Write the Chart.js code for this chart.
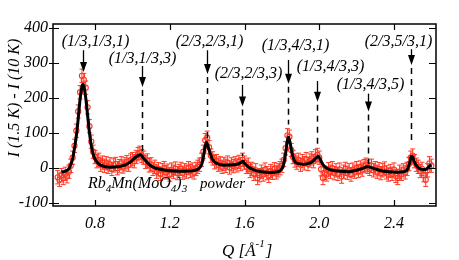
<!DOCTYPE html>
<html>
<head>
<meta charset="utf-8">
<script src="https://cdn.jsdelivr.net/npm/chart.js@4.4.0/dist/chart.umd.min.js"></script>
<style>
  body { margin: 0; background: #fff; }
</style>
</head>
<body>
<canvas id="chart-1" width="459" height="260"></canvas>
<script>
// measured points : Q (1/A) and I(1.5K)-I(10K)
const qData = [
  0.60,0.61,0.62,0.63,0.64,0.65,0.66,0.67,0.68,0.69,
  0.70,0.71,0.72,0.73,0.74,0.75,0.76,0.77,0.78,0.79,
  0.80,0.81,0.82,0.83,0.84,0.85,0.86,0.87,0.88,0.89,
  0.90,0.91,0.92,0.93,0.94,0.95,0.96,0.97,0.98,0.99,
  1.00,1.01,1.02,1.03,1.04,1.05,1.06,1.07,1.08,1.09,
  1.10,1.11,1.12,1.13,1.14,1.15,1.16,1.17,1.18,1.19,
  1.20,1.21,1.22,1.23,1.24,1.25,1.26,1.27,1.28,1.29,
  1.30,1.31,1.32,1.33,1.34,1.35,1.36,1.37,1.38,1.39,
  1.40,1.41,1.42,1.43,1.44,1.45,1.46,1.47,1.48,1.49,
  1.50,1.51,1.52,1.53,1.54,1.55,1.56,1.57,1.58,1.59,
  1.60,1.61,1.62,1.63,1.64,1.65,1.66,1.67,1.68,1.69,
  1.70,1.71,1.72,1.73,1.74,1.75,1.76,1.77,1.78,1.79,
  1.80,1.81,1.82,1.83,1.84,1.85,1.86,1.87,1.88,1.89,
  1.90,1.91,1.92,1.93,1.94,1.95,1.96,1.97,1.98,1.99,
  2.00,2.01,2.02,2.03,2.04,2.05,2.06,2.07,2.08,2.09,
  2.10,2.11,2.12,2.13,2.14,2.15,2.16,2.17,2.18,2.19,
  2.20,2.21,2.22,2.23,2.24,2.25,2.26,2.27,2.28,2.29,
  2.30,2.31,2.32,2.33,2.34,2.35,2.36,2.37,2.38,2.39,
  2.40,2.41,2.42,2.43,2.44,2.45,2.46,2.47,2.48,2.49,
  2.50,2.51,2.52,2.53,2.54,2.55,2.56,2.57,2.58,2.59,
  2.60
];
const iData = [
  -28,-35,-22,-30,-18,-25,-12,5,28,62,
  105,160,215,262,250,228,172,118,74,45,
  30,18,22,8,14,5,12,2,9,-4,
  6,10,-2,4,12,3,9,15,8,20,
  24,18,30,38,42,33,28,16,20,6,
  9,-4,2,-12,-5,-18,-8,-2,-14,-9,
  -20,-6,-12,-3,-16,-10,-4,-15,-8,-12,
  -2,-10,-6,-14,-4,2,8,22,45,78,
  85,58,34,26,15,18,8,12,2,10,
  5,14,0,9,4,12,6,16,10,22,
  14,2,8,-10,-4,-18,-8,-30,-22,-12,
  -20,-6,-16,-24,-10,-15,-5,-14,-8,-2,
  5,22,55,92,88,50,30,20,14,22,
  8,18,12,24,10,20,26,18,32,36,
  28,-5,-30,-15,-20,-5,-12,-2,-16,-8,
  -18,-6,-26,-12,-4,-15,-8,-20,-6,-12,
  -2,-10,0,-6,4,8,2,-4,5,-8,
  -2,-12,-5,-16,-8,-3,-14,-20,-10,-18,
  -6,-24,-30,-12,-18,-8,-14,-4,10,28,
  34,18,8,2,-10,-4,-22,-35,-8,12,
  5
];
const iErr = 19;

// fit curve (black line)
const fitQ = [0.62,0.64,0.66,0.67,0.68,0.69,0.70,0.71,0.72,0.73,0.735,0.74,0.75,0.76,0.77,0.78,0.79,0.80,
  0.82,0.85,0.88,0.92,0.96,0.99,1.01,1.03,1.045,1.06,1.08,1.10,1.13,1.17,1.22,1.28,1.33,1.355,1.37,
  1.38,1.39,1.397,1.405,1.415,1.43,1.45,1.48,1.52,1.56,1.58,1.593,1.60,1.62,1.65,1.69,1.74,1.78,1.80,
  1.81,1.82,1.83,1.836,1.845,1.855,1.865,1.88,1.91,1.94,1.965,1.985,1.995,2.005,2.02,2.04,2.07,2.11,
  2.16,2.20,2.23,2.255,2.27,2.30,2.34,2.39,2.44,2.465,2.475,2.485,2.493,2.50,2.51,2.525,2.54,2.56,
  2.575,2.59,2.60];
const fitI = [-12,-11,-4,8,25,55,90,140,195,232,238,233,200,150,100,62,38,24,
  10,3,1,2,7,16,26,34,36,26,14,4,-3,-7,-10,-11,-9,-3,8,
  30,62,72,60,42,22,12,7,7,9,14,18,12,2,-7,-12,-14,-12,-4,
  10,40,78,86,68,40,22,12,9,11,18,28,32,24,8,-2,-8,-11,
  -12,-8,-3,2,1,-4,-10,-13,-13,-10,-2,15,32,30,15,2,-4,-6,
  -4,4,7];

// peak markers
const peakQ = [0.736, 1.050, 1.397, 1.586, 1.835, 1.989, 2.261, 2.491];
const peakLabels = ['(1/3,1/3,1)', '(1/3,1/3,3)', '(2/3,2/3,1)', '(2/3,2/3,3)',
  '(1/3,4/3,1)', '(1/3,4/3,3)', '(1/3,4/3,5)', '(2/3,5/3,1)'];

const xTicks = [0.8, 1.2, 1.6, 2.0, 2.4];
const yTicks = [-100, 0, 100, 200, 300, 400];

// layout of the markers, in y units (label centre, arrow top, arrow tip, end of dashes) and label shift in px
const markerLayout = [
  { labelY: 358, top: 335, tip: 273, end: 273, dx: 12 },
  { labelY: 310, top: 290, tip: 230, end: 47, dx: 0 },
  { labelY: 358, top: 335, tip: 267, end: 81, dx: 2 },
  { labelY: 267, top: 236, tip: 174, end: 33, dx: 6 },
  { labelY: 349, top: 307, tip: 239, end: 123, dx: 7 },
  { labelY: 287, top: 247, tip: 188, end: 55, dx: 13 },
  { labelY: 236, top: 211, tip: 160, end: 10, dx: 2 },
  { labelY: 358, top: 338, tip: 293, end: 67, dx: -13 }
];

const serif = '"Liberation Serif", "Times New Roman", serif';
const red = 'rgb(255, 55, 35)';

const points = qData.map((q, i) => ({ x: q, y: iData[i] }));
const fit = fitQ.map((q, i) => ({ x: q, y: fitI[i] }));

const decorations = {
  id: 'decorations',
  beforeDatasetsDraw(chart) {
    const ctx = chart.ctx, x = chart.scales.x, y = chart.scales.y;
    ctx.save();
    ctx.strokeStyle = red;
    ctx.lineWidth = 1;
    points.forEach(p => {
      const px = x.getPixelForValue(p.x);
      const y1 = y.getPixelForValue(p.y - iErr), y2 = y.getPixelForValue(p.y + iErr);
      ctx.beginPath();
      ctx.moveTo(px, y1); ctx.lineTo(px, y2);
      ctx.moveTo(px - 2.5, y1); ctx.lineTo(px + 2.5, y1);
      ctx.moveTo(px - 2.5, y2); ctx.lineTo(px + 2.5, y2);
      ctx.stroke();
    });
    ctx.restore();
  },
  afterDatasetsDraw(chart) {
    const ctx = chart.ctx, x = chart.scales.x, y = chart.scales.y;
    ctx.save();
    ctx.fillStyle = '#000';
    ctx.strokeStyle = '#000';
    ctx.font = 'italic 16px ' + serif;
    ctx.textAlign = 'center';
    ctx.textBaseline = 'middle';
    peakQ.forEach((q, i) => {
      const m = markerLayout[i];
      const px = Math.round(x.getPixelForValue(q)) + 0.5;
      const top = y.getPixelForValue(m.top), tip = y.getPixelForValue(m.tip);
      ctx.fillText(peakLabels[i], px + m.dx, y.getPixelForValue(m.labelY));
      ctx.lineWidth = 1.3;
      ctx.setLineDash([]);
      ctx.beginPath();
      ctx.moveTo(px, top); ctx.lineTo(px, tip - 8);
      ctx.stroke();
      ctx.beginPath();
      ctx.moveTo(px - 3.5, tip - 10); ctx.lineTo(px + 3.5, tip - 10); ctx.lineTo(px, tip);
      ctx.closePath();
      ctx.fill();
      if (m.end < m.tip) {
        ctx.lineWidth = 1.5;
        ctx.setLineDash([6, 5]);
        ctx.beginPath();
        ctx.moveTo(px, tip + 3); ctx.lineTo(px, y.getPixelForValue(m.end));
        ctx.stroke();
      }
    });
    ctx.restore();
  },
  afterDraw(chart) {
    const ctx = chart.ctx, x = chart.scales.x, y = chart.scales.y, a = chart.chartArea;
    ctx.save();
    ctx.strokeStyle = '#000';
    ctx.lineWidth = 1.5;
    ctx.strokeRect(a.left, a.top, a.right - a.left, a.bottom - a.top);
    ctx.lineWidth = 1.2;
    ctx.beginPath();
    xTicks.forEach(v => {
      const px = Math.round(x.getPixelForValue(v)) + 0.5;
      ctx.moveTo(px, a.bottom); ctx.lineTo(px, a.bottom - 6);
      ctx.moveTo(px, a.top); ctx.lineTo(px, a.top + 6);
    });
    yTicks.forEach(v => {
      const py = Math.round(y.getPixelForValue(v)) + 0.5;
      ctx.moveTo(a.left - 4, py); ctx.lineTo(a.left + 6, py);
      ctx.moveTo(a.right, py); ctx.lineTo(a.right - 7, py);
    });
    ctx.stroke();

    ctx.fillStyle = '#000';
    ctx.textBaseline = 'alphabetic';
    ctx.textAlign = 'left';
    // sample name
    let cx = 88;
    const base = 188;
    const part = (t, size, dy) => {
      ctx.font = 'italic ' + size + 'px ' + serif;
      ctx.fillText(t, cx, base + dy);
      cx += ctx.measureText(t).width;
    };
    part('Rb', 16, 0); part('4', 11, 4); part('Mn(MoO', 16, 0); part('4', 11, 4);
    part(')', 16, 0); part('3', 11, 4);
    cx = 200;
    part('powder', 15, 0);

    // x title
    cx = 222;
    const xb = 256;
    ctx.font = 'italic 17px ' + serif;
    ctx.fillText('Q [Å', cx, xb);
    cx += ctx.measureText('Q [Å').width;
    ctx.font = 'italic 11px ' + serif;
    ctx.fillText('-1', cx, xb - 9);
    cx += ctx.measureText('-1').width + 1;
    ctx.font = 'italic 17px ' + serif;
    ctx.fillText(']', cx, xb);

    // y title
    ctx.save();
    ctx.translate(15, 98);
    ctx.rotate(-Math.PI / 2);
    ctx.textAlign = 'center';
    ctx.textBaseline = 'middle';
    ctx.font = 'italic 16px ' + serif;
    ctx.fillText('I (1.5 K) - I (10 K)', 0, 0);
    ctx.restore();
    ctx.restore();
  }
};

const ctx1 = document.getElementById('chart-1').getContext('2d');
const myChart1 = new Chart(ctx1, {
  type: 'scatter',
  data: {
    datasets: [{
      label: 'fit',
      data: fit,
      showLine: true,
      borderColor: '#000',
      borderWidth: 3,
      pointRadius: 0,
      tension: 0.3,
      order: 0
    }, {
      label: 'data',
      data: points,
      pointStyle: 'circle',
      pointRadius: 2.6,
      borderWidth: 1.1,
      borderColor: red,
      backgroundColor: 'rgba(255,255,255,0)',
      order: 1
    }]
  },
  options: {
    responsive: false,
    animation: false,
    layout: { padding: { left: 0, top: 24, right: 23, bottom: 0 } },
    plugins: { legend: { display: false }, tooltip: { enabled: false } },
    scales: {
      x: {
        type: 'linear',
        min: 0.575,
        max: 2.625,
        afterFit(scale) { scale.height = 54; },
        afterBuildTicks(scale) { scale.ticks = xTicks.map(v => ({ value: v })); },
        grid: { display: false, drawTicks: false },
        border: { display: false },
        ticks: {
          padding: 8,
          color: '#000',
          font: { family: serif, size: 16, style: 'italic' },
          callback: v => v.toFixed(1)
        }
      },
      y: {
        min: -110,
        max: 410,
        afterFit(scale) { scale.width = 53; },
        afterBuildTicks(scale) { scale.ticks = yTicks.map(v => ({ value: v })); },
        grid: { display: false, drawTicks: false },
        border: { display: false },
        ticks: {
          padding: 5,
          color: '#000',
          font: { family: serif, size: 16, style: 'italic' },
          callback: v => String(v)
        }
      }
    }
  },
  plugins: [decorations]
});
</script>
</body>
</html>
